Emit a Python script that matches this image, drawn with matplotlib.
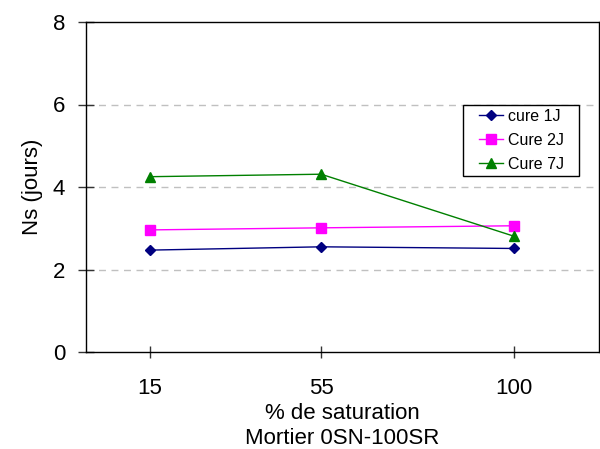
import matplotlib
matplotlib.use("Agg")
import matplotlib.pyplot as plt
from matplotlib.patches import Rectangle
from matplotlib.transforms import IdentityTransform

saturation = [15, 55, 100]
cure_1j = [2.47, 2.55, 2.51]
cure_2j = [2.96, 3.01, 3.06]
cure_7j = [4.25, 4.31, 2.81]
series_labels = ["cure 1J", "Cure 2J", "Cure 7J"]
y_ticks = [0, 2, 4, 6, 8]

plt.rcParams['font.family'] = ['Liberation Sans', 'DejaVu Sans']

fig = plt.figure(figsize=(6.0, 4.49), dpi=100)
ax = fig.add_axes([86/600, 1-352/449, 513/600, 330/449])

ax.plot(saturation, cure_1j, color='#000080', marker='D', markersize=5, lw=1.0, label=series_labels[0])
ax.plot(saturation, cure_2j, color='#FF00FF', marker='s', markersize=7, lw=1.0, label=series_labels[1])
ax.plot(saturation, cure_7j, color='#008000', marker='^', markersize=7, lw=1.0, label=series_labels[2])

ax.set_xlim(0, 120)
ax.set_ylim(0, 8)
ax.set_xticks(saturation)
ax.set_xticklabels([str(s) for s in saturation])
ax.set_yticks(y_ticks)
for g in y_ticks[1:-1]:
    ax.axhline(g, color='#c0c0c0', lw=1.0, dashes=(5, 4), zorder=0)

ax.tick_params(axis='both', direction='inout', width=1, labelsize=16, color='#333333')
ax.tick_params(axis='x', length=9, pad=14)
ax.tick_params(axis='y', length=12, pad=9)
for s in ax.spines.values():
    s.set_color('black')
    s.set_linewidth(1.0)

ax.set_ylabel("Ns (jours)", fontsize=16, labelpad=7)
ax.set_xlabel("% de saturation\nMortier 0SN-100SR", fontsize=16, labelpad=3, linespacing=1.28)

leg = ax.legend(loc='upper left', bbox_to_anchor=(479/600, 1-109/449), bbox_transform=fig.transFigure,
                fontsize=11.5, frameon=False, borderaxespad=0, handlelength=1.5, borderpad=0,
                labelspacing=0.55, handletextpad=0.3)

fig.canvas.draw()
bb = leg.get_window_extent()
pad_x_left, pad_x_right, pad_y = 16, 15, 4
frame = Rectangle((bb.x0 - pad_x_left, bb.y0 - pad_y), bb.width + pad_x_left + pad_x_right,
                  bb.height + 2 * pad_y, transform=IdentityTransform(), facecolor='white',
                  edgecolor='black', linewidth=1.0, zorder=4)
ax.add_artist(frame)
leg.remove()
leg.set_zorder(5)
ax.add_artist(leg)

fig.savefig("out.png", dpi=100)
